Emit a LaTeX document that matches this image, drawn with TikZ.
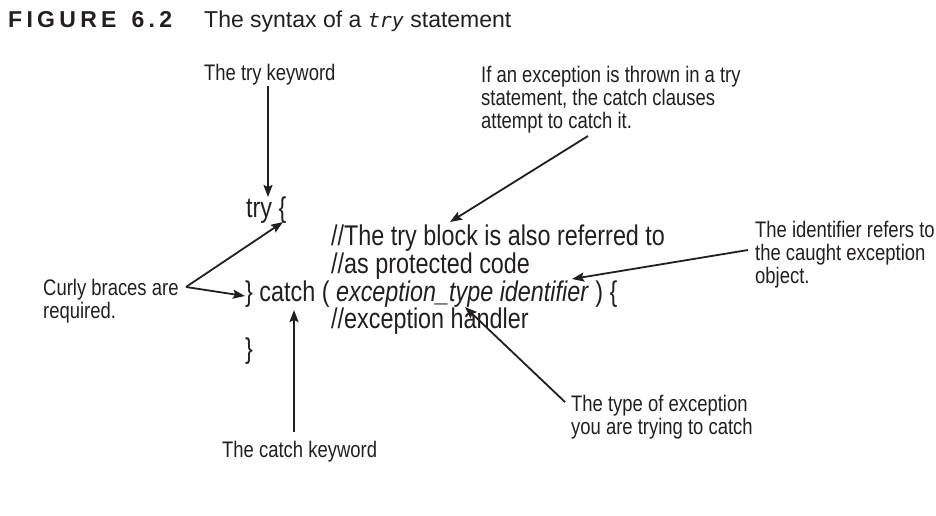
\documentclass[tikz,border=0pt]{standalone}
\usepackage{fontspec}
\setmainfont{Liberation Sans}
\newfontfamily\cond{Liberation Sans}[FakeStretch=0.82]
\newfontfamily\monoit{DejaVu Sans Mono}
\usetikzlibrary{arrows.meta}
\definecolor{ink}{HTML}{231F20}
\tikzset{
  lbl/.style={anchor=base west, inner sep=0pt, font=\cond\fontsize{22.5}{25}\selectfont, text=ink},
  code/.style={anchor=base west, inner sep=0pt, font=\cond\fontsize{28.5}{32}\selectfont, text=ink},
  arr/.style={draw=ink, line width=1.8pt, -{Stealth[length=12pt,width=9pt,inset=2pt]}},
  ttl/.style={anchor=base west, inner sep=0pt, text=ink}
}
\begin{document}
\begin{tikzpicture}[x=1pt,y=-1pt]
\useasboundingbox[fill=white] (0,0) rectangle (936,515);
% title
\node[ttl, font=\bfseries\fontsize{23}{26}\selectfont] (fig) at (8,27.5)
  {F\kern4.3pt I\kern4.3pt G\kern4.3pt U\kern4.3pt R\kern4.3pt E\kern4.3pt\ \kern4.3pt6\kern4.3pt.\kern4.3pt2};
\node[ttl, font=\fontsize{23}{26}\selectfont] (cap) at (204,27.5)
  {The syntax of a {\monoit\itshape\fontsize{20}{26}\selectfont try} statement};
% code
\node[code] (ctry) at (246,217) {try \{};
\node[code] (c1) at (331,245) {//The try block is also referred to};
\node[code] (c2) at (331,273) {//as protected code};
\node[code] (ccatch) at (245,301) {\} catch ( \textit{exception\_type identifier} ) \{};
\node[code] (c3) at (331,328) {//exception handler};
\node[code] (cend) at (245,358) {\}};
% labels
\node[lbl] (ltry) at (204,80) {The try keyword};
\node[lbl] (lex1) at (481,82) {If an exception is thrown in a try};
\node[lbl] (lex2) at (481,105) {statement, the catch clauses};
\node[lbl] (lex3) at (481,128) {attempt to catch it.};
\node[lbl] (lid1) at (755,237) {The identifier refers to};
\node[lbl] (lid2) at (755,260) {the caught exception};
\node[lbl] (lid3) at (755,283) {object.};
\node[lbl] (lcb1) at (43,295) {Curly braces are};
\node[lbl] (lcb2) at (43,318) {required.};
\node[lbl] (lty1) at (571,411) {The type of exception};
\node[lbl] (lty2) at (571,434) {you are trying to catch};
\node[lbl] (lcat) at (222,457) {The catch keyword};
% connector coordinates
\coordinate (ptryS) at (268,86);
\coordinate (ptryE) at (268,197);
\coordinate (pcb) at (186,287);
\coordinate (pcbA) at (283,222);
\coordinate (pcbB) at (245,296);
\coordinate (pcatS) at (294,432);
\coordinate (pcatE) at (294,310);
\coordinate (pexS) at (588,136);
\coordinate (pexE) at (450,222);
\coordinate (pidS) at (748,250);
\coordinate (pidE) at (572,279);
\coordinate (ptyS) at (565,402);
\coordinate (ptyE) at (465,307);
% connectors
\draw[arr] (ptryS) -- (ptryE);
\draw[arr] (pcb) -- (pcbA);
\draw[arr] (pcb) -- (pcbB);
\draw[arr] (pcatS) -- (pcatE);
\draw[arr] (pexS) -- (pexE);
\draw[arr] (pidS) -- (pidE);
\draw[arr] (ptyS) -- (ptyE);
\end{tikzpicture}
\end{document}
